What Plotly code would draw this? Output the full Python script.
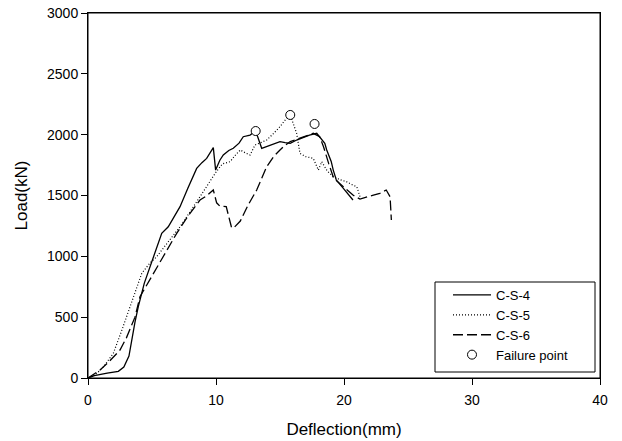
import plotly.graph_objects as go

# C-S-4 (solid)
cs4_x = [0, 0.5, 1.5, 2.37, 2.8, 3.2, 3.67, 3.93, 4.4, 4.84, 5.3, 5.76, 6.27, 6.7, 7.19, 7.8, 8.49,
         8.9, 9.27, 9.79, 9.97, 10.3, 10.57, 11.0, 11.35, 11.8, 12.13, 12.66, 13.1, 13.57, 14.2,
         15.0, 15.4, 15.8, 16.3, 16.8, 17.3, 17.87, 18.1, 18.5, 18.65, 19.0, 19.16, 19.4, 19.95,
         20.2, 20.7]
cs4_y = [0, 20, 40, 55, 90, 180, 460, 586, 780, 915, 1060, 1189, 1243, 1320, 1408, 1560, 1723,
         1770, 1805, 1893, 1709, 1790, 1833, 1870, 1888, 1930, 1983, 1997, 2030, 1888, 1915,
         1943, 1935, 1929, 1956, 1975, 1997, 2011, 1983, 1929, 1874, 1780, 1709, 1627, 1559,
         1530, 1463]

# C-S-5 (dotted)
cs5_x = [0, 0.6, 1.2, 1.98, 2.6, 3.28, 3.7, 4.2, 4.8, 5.37, 6.2, 7.19, 8.0, 8.75, 9.4, 10.05,
         10.5, 11.1, 11.5, 11.9, 12.3, 12.66, 13.05, 13.5, 13.96, 14.5, 15.0, 15.4, 15.8, 16.3,
         16.56, 17.0, 17.6, 18.0, 18.26, 18.7, 19.16, 19.7, 20.2, 20.6, 21.0, 21.25]
cs5_y = [0, 30, 90, 203, 380, 586, 720, 860, 940, 997, 1110, 1243, 1370, 1490, 1590, 1700,
         1760, 1778, 1830, 1874, 1850, 1833, 1915, 1935, 1956, 2010, 2066, 2120, 2162, 2011,
         1846, 1820, 1805, 1709, 1778, 1700, 1655, 1630, 1613, 1590, 1572, 1490]

# C-S-6 (dashed)
cs6_x = [0, 0.94, 1.6, 2.24, 2.5, 3.0, 3.67, 4.06, 4.98, 5.9, 6.93, 7.8, 8.75, 9.3, 9.79, 10.05,
         10.3, 10.8, 11.2, 11.35, 11.9, 12.5, 13.18, 13.96, 14.5, 15.0, 15.26, 15.8, 16.56, 17.0,
         17.6, 18.1, 18.4, 18.8, 19.2, 19.95, 20.7, 21.25, 21.8, 22.3, 22.8, 23.3, 23.6, 23.7]
cs6_y = [0, 66, 130, 203, 230, 330, 500, 668, 832, 1000, 1189, 1330, 1463, 1500, 1545, 1440,
         1413, 1408, 1243, 1230, 1290, 1420, 1545, 1737, 1820, 1874, 1901, 1943, 1969, 1990,
         2011, 1983, 1901, 1764, 1641, 1572, 1504, 1470, 1490, 1504, 1518, 1545, 1490, 1298]

# Failure points
fail_x = [13.1, 15.8, 17.7]
fail_y = [2030, 2162, 2088]

x_ticks = [0, 10, 20, 30, 40]
y_ticks = [0, 500, 1000, 1500, 2000, 2500, 3000]

FONT = "Arial, Liberation Sans, sans-serif"

L, T = 88, 13
PW, PH = 512, 365
W, H = 622, 441

fig = go.Figure()
fig.add_trace(go.Scatter(x=cs4_x, y=cs4_y, mode="lines", name="C-S-4",
                         line=dict(color="black", width=1.3)))
fig.add_trace(go.Scatter(x=cs5_x, y=cs5_y, mode="lines", name="C-S-5",
                         line=dict(color="black", width=1.2, dash="1px,2px")))
fig.add_trace(go.Scatter(x=cs6_x, y=cs6_y, mode="lines", name="C-S-6",
                         line=dict(color="black", width=1.3, dash="10px,4px")))
fig.add_trace(go.Scatter(x=fail_x, y=fail_y, mode="markers", name="Failure point",
                         marker=dict(symbol="circle", size=9, color="white",
                                     line=dict(color="black", width=1))))

axis_common = dict(showgrid=False, zeroline=False, showline=True, linecolor="black",
                   linewidth=1, mirror=True, ticks="outside", ticklen=6, tickwidth=1,
                   tickcolor="black", automargin=False, ticklabeloverflow="allow",
                   tickfont=dict(family=FONT, size=14, color="black"))

fig.update_xaxes(range=[0, 40], tickvals=x_ticks, ticklabelstandoff=3,
                 title=dict(text="Deflection(mm)", font=dict(family=FONT, size=17, color="black"),
                            standoff=16),
                 **axis_common)
fig.update_yaxes(range=[0, 3000], tickvals=y_ticks,
                 title=dict(text="Load(kN)", font=dict(family=FONT, size=17, color="black"),
                            standoff=15),
                 **axis_common)

# plot frame
fig.add_shape(type="rect", xref="paper", yref="paper", x0=0, x1=1, y0=0, y1=1,
              line=dict(color="black", width=1), fillcolor="rgba(0,0,0,0)", layer="above")

# legend frame (reference pixel box 435..595 x 282..372)
fig.add_shape(type="rect", xref="paper", yref="paper",
              x0=(435 - L) / PW, x1=(595 - L) / PW,
              y0=(T + PH - 372) / PH, y1=(T + PH - 282) / PH,
              line=dict(color="black", width=1), fillcolor="rgba(0,0,0,0)", layer="above")

fig.update_layout(
    width=W, height=H,
    margin=dict(l=L, r=W - L - PW, t=T, b=H - T - PH, autoexpand=False),
    paper_bgcolor="white", plot_bgcolor="white",
    font=dict(family=FONT, color="black"),
    showlegend=True,
    legend=dict(x=(448 - L) / PW, y=(T + PH - 280) / PH, xanchor="left", yanchor="top",
                bgcolor="rgba(0,0,0,0)", borderwidth=0,
                font=dict(family=FONT, size=13, color="black"),
                itemwidth=38, tracegroupgap=0),
)

fig.write_html("out.html", config={"displayModeBar": False},
               post_script="document.body.style.margin='0';")
